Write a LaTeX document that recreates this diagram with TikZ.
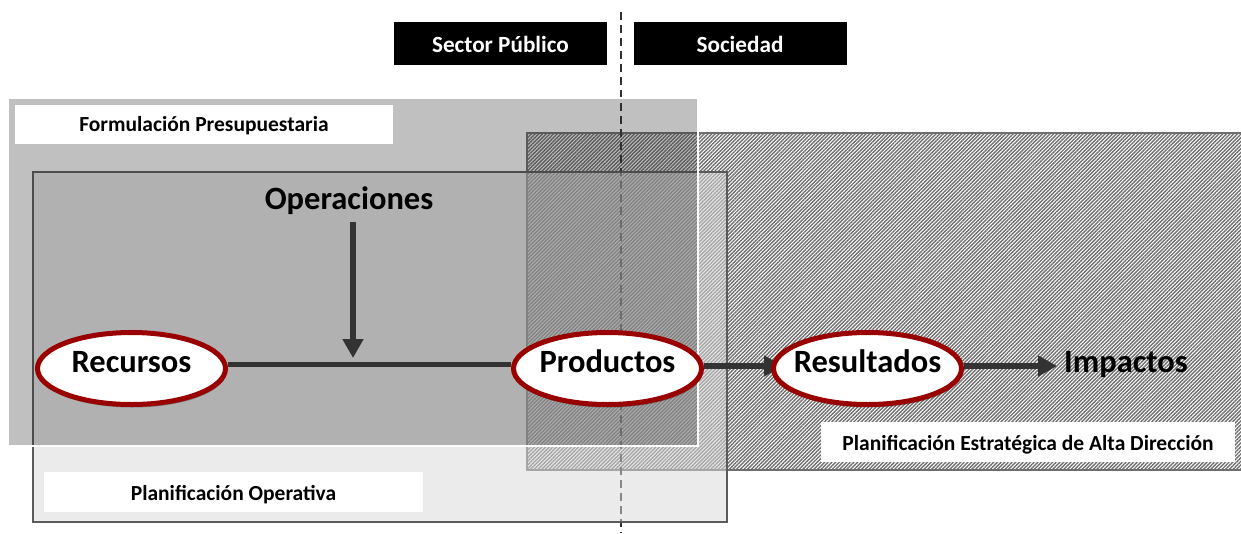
\documentclass[tikz,border=0pt]{standalone}
\usepackage{fontspec}
\setmainfont{Carlito}
\usetikzlibrary{arrows.meta,shapes.geometric,shadows,patterns.meta}
\definecolor{arrowc}{HTML}{333333}
\definecolor{ellred}{HTML}{990000}
\definecolor{hatchc}{HTML}{707070}
\definecolor{hatchborder}{HTML}{6E6E6E}
\definecolor{opfill}{HTML}{D8D8D8}
\definecolor{opborder}{HTML}{5A5A5A}
\definecolor{formfill}{HTML}{2D2D2D}
\definecolor{dashc}{HTML}{303030}
\pgfdeclarelayer{back}
\pgfdeclarelayer{conn}
\pgfsetlayers{back,conn,main}
\begin{document}
\begin{tikzpicture}[x=1pt,y=-1pt,
  bigtext/.style={font=\fontsize{32.5}{36}\selectfont\bfseries},
  stage/.style={ellipse, draw=ellred, line width=5pt, fill=white,
    minimum width=188pt, minimum height=72pt, inner xsep=-12pt, inner ysep=0pt,
    text height=12pt, text depth=5pt, bigtext,
    drop shadow={shadow xshift=1pt, shadow yshift=-3pt, opacity=0.3, fill=black}},
  header/.style={fill=black, text=white, minimum width=213pt, minimum height=43pt,
    inner sep=0pt, text height=18pt, text depth=0pt,
    font=\fontsize{23.2}{26}\selectfont\bfseries},
  tag/.style={fill=white, inner sep=0pt, text depth=0pt,
    font=\fontsize{21.5}{24}\selectfont\bfseries},
  flow/.style={draw=arrowc, line width=5.5pt},
  flowarrow/.style={flow, -{Triangle[length=19pt,width=20pt]}}
]
\useasboundingbox (0,0) rectangle (1241,533);
\clip (0,0) rectangle (1241,533);

\begin{pgfonlayer}{back}
% hatched strategic planning box
\path[fill=white] (527,133) rectangle (1260,470);
\path[pattern={Lines[angle=45,distance=2.6pt,line width=1.4pt]}, pattern color=hatchc]
  (527,133) rectangle (1260,470);
\draw[hatchborder, line width=2pt] (527,133) rectangle (1260,470);

% dashed boundary
\coordinate (dtop) at (621,12);
\coordinate (dbot) at (621,533);
\draw[dashc, line width=2pt, dash pattern=on 8pt off 5pt] (dtop) -- (dbot);

% operational planning box
\draw[fill=opfill, fill opacity=0.52, draw=opborder, line width=2pt] (33,172) rectangle (727,522);

% budget formulation box
\draw[fill=formfill, fill opacity=0.3, draw=white, line width=1.5pt] (8,98) rectangle (698,446);

% headers
\node[header] (sp) at (500.5,43.5) {Sector Público};
\node[header] (so) at (740,43.5) {Sociedad};

% labels
\node[tag, minimum width=378pt, minimum height=39pt, text height=14pt] (fp) at (204,124.5) {Formulación Presupuestaria};
\node[tag, minimum width=379pt, minimum height=40pt, text height=16pt] (po) at (233.5,492) {Planificación Operativa};
\node[tag, minimum width=414pt, minimum height=40pt, text height=16pt] (pe) at (1028,442) {Planificación Estratégica de Alta Dirección};
\end{pgfonlayer}

% Operaciones
\node[bigtext, anchor=base, inner sep=0pt, text depth=0pt] (ops) at (349,209) {Operaciones};
\coordinate (join) at (353,358);

% stages
\node[stage] (rec) at (131.5,368.5) {Recursos};
\node[stage] (prod) at (607.5,368.5) {Productos};
\node[stage] (res) at (867.5,368.5) {Resultados};
\node[bigtext, inner sep=0pt, text height=12pt, text depth=0pt] (imp) at (1126,366) {Impactos};

% connectors (behind ellipses)
\begin{pgfonlayer}{conn}
\draw[flow] ([yshift=4pt]rec.east) -- ([yshift=4pt]prod.west);
\draw[flowarrow, shorten <=13pt] ([xshift=4pt]ops.south) -- (join);
\draw[flowarrow, shorten >=-12pt] ([yshift=2.5pt]prod.east) -- ([yshift=2.5pt]res.west);
\draw[flowarrow, shorten >=7pt] ([yshift=2.5pt]res.east) -- (imp.west);
\end{pgfonlayer}
\end{tikzpicture}
\end{document}
